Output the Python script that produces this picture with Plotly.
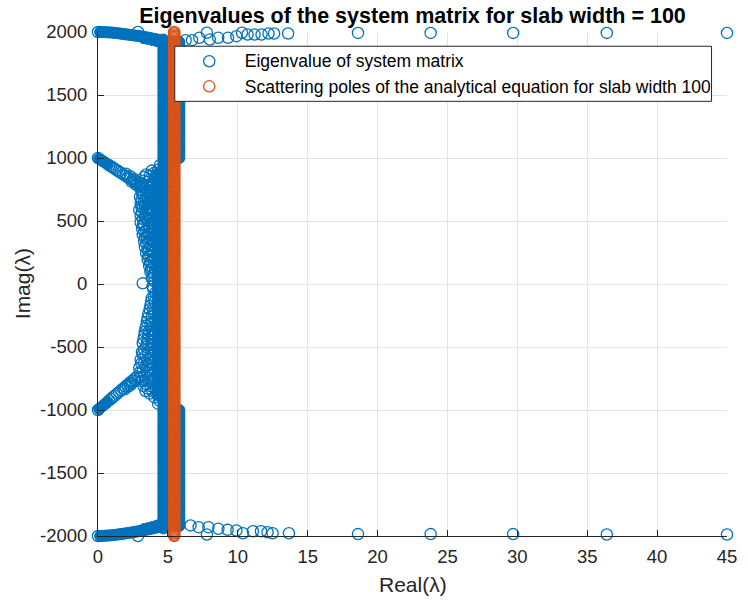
import plotly.graph_objects as go

BLUE = "#0072BD"
ORANGE = "#D95319"
FONT = "Liberation Sans"

# ---------------------------------------------------------------------------
# Eigenvalues of the system matrix (real part, imaginary part)
# ---------------------------------------------------------------------------

# band running along the top edge into the dense column
TOP_BAND_RE = [0, 0.15, 0.3, 0.45, 0.6, 0.75, 0.9, 1.05, 1.2, 1.35, 1.5, 1.65,
               1.8, 1.95, 2.1, 2.25, 2.4, 2.55, 2.7, 2.85, 3.0, 3.15, 3.3, 3.45,
               3.6, 3.75, 3.9, 4.05, 4.2, 4.35, 4.5,
               3.3, 3.6, 3.9, 4.2, 4.45]
TOP_BAND_IM = [2000, 2000, 1999, 1999, 1998, 1997, 1996, 1995, 1993, 1991, 1989, 1987,
               1984, 1982, 1980, 1978, 1976, 1973, 1971, 1969, 1967, 1964, 1961, 1958,
               1955, 1951, 1948, 1945, 1941, 1938, 1935,
               1950, 1944, 1936, 1928, 1920]

# band running along the bottom edge into the dense column
BOTTOM_BAND_RE = [0, 0.15, 0.3, 0.45, 0.6, 0.75, 0.9, 1.05, 1.2, 1.35, 1.5, 1.65,
                  1.8, 1.95, 2.1, 2.25, 2.4, 2.55, 2.7, 2.85, 3.0, 3.15, 3.3, 3.45,
                  3.6, 3.75, 3.9, 4.05, 4.2, 4.35, 4.5,
                  3.3, 3.6, 3.9, 4.2, 4.45]
BOTTOM_BAND_IM = [-2000, -2000, -1999, -1998, -1997, -1996, -1995, -1993, -1991, -1989, -1987, -1985,
                  -1982, -1980, -1977, -1975, -1972, -1969, -1966, -1963, -1960, -1957, -1954, -1950,
                  -1947, -1943, -1940, -1936, -1932, -1929, -1925,
                  -1945, -1937, -1928, -1918, -1910]

# branch leaving +1000i
UPPER_BRANCH_RE = [0, 0.08, 0.16, 0.25, 0.35, 0.45, 0.56, 0.68, 0.8, 0.93, 1.06, 1.2,
                   1.35, 1.5, 1.65, 1.8, 1.96, 2.12, 2.28, 2.45, 2.62, 2.8, 2.97,
                   2.0, 2.3, 2.55, 2.75, 3.0, 2.4, 2.7, 2.95]
UPPER_BRANCH_IM = [1000, 994, 988, 982, 975, 968, 960, 951, 942, 933, 924, 914,
                   903, 892, 881, 870, 859, 847, 836, 824, 811, 798, 786,
                   875, 855, 835, 815, 800, 812, 790, 770]

# branch leaving -1000i
LOWER_BRANCH_RE = [0, 0.08, 0.16, 0.25, 0.35, 0.45, 0.56, 0.68, 0.8, 0.93, 1.06, 1.2,
                   1.35, 1.5, 1.65, 1.8, 1.96, 2.12, 2.28, 2.45, 2.62, 2.8,
                   1.9, 2.15, 2.4, 2.65, 2.9, 2.3]
LOWER_BRANCH_IM = [-1000, -992, -985, -976, -967, -957, -947, -935, -924, -912, -899, -886,
                   -872, -858, -843, -829, -814, -799, -783, -767, -751, -734,
                   -835, -815, -790, -770, -750, -805]

# loose eigenvalues on the left flank of the column
FLANK_RE = [3.3, 3.7, 4.0, 4.3, 4.45, 3.15, 3.5, 3.85, 4.1, 3.1, 3.35, 3.6, 3.9,
            3.0, 3.25, 3.55, 3.8, 4.05, 3.05, 3.3, 3.6, 3.9, 2.95, 3.2, 3.45, 3.75,
            4.0, 3.05, 3.35, 3.65, 3.95, 3.05, 3.3, 3.55, 3.85, 4.1, 3.15, 3.45, 3.7,
            4.0, 3.2, 3.5, 3.8, 4.05, 3.3, 3.6, 3.9, 3.35, 3.65, 3.95, 3.45, 3.75, 4.0,
            3.55, 3.8, 4.05, 3.65, 3.9, 3.75, 4.0, 3.85, 4.05, 3.2,
            3.45, 3.85, 4.15, 3.25, 3.7, 4.0, 3.2, 3.5, 3.75, 4.1, 3.15, 3.45, 3.7,
            3.95, 3.1, 3.4, 3.75, 4.1, 3.1, 3.35, 3.6, 3.9, 3.15, 3.5, 3.8, 4.1,
            3.2, 3.45, 3.75, 3.95, 3.2, 3.6, 3.9, 3.3, 3.6, 3.9, 3.35, 3.7, 4.0,
            3.45, 3.8, 3.55, 3.85, 3.6, 3.95, 3.7, 4.0, 3.8, 4.1, 3.9,
            3.95, 4.1, 3.85, 4.05, 3.75, 3.95, 3.6, 3.85, 4.1, 3.5, 3.75, 3.4, 3.65,
            3.95, 3.3, 3.55, 3.85, 3.2, 3.45, 3.75, 4.05, 3.15, 3.4, 3.7, 3.05, 3.3,
            3.6, 3.9, 2.95, 3.2, 3.5, 3.8, 3.05, 3.35, 3.65, 4.0, 3.25, 3.55, 3.9,
            4.25, 4.45,
            3.9, 4.0, 3.8, 3.7, 4.0, 3.55, 3.85, 3.45, 3.8, 3.35, 3.6, 3.9, 3.25,
            3.5, 3.8, 3.3, 3.6, 3.9, 3.2, 3.5, 3.8, 3.1, 3.4, 3.7, 4.05, 3.0, 3.3,
            3.6, 3.9, 3.15, 3.45, 3.75, 4.1, 3.4, 3.7, 4.05, 4.3]
FLANK_IM = [850, 860, 880, 905, 945, 795, 810, 790, 825, 745, 760, 740, 730,
            690, 705, 680, 700, 690, 640, 655, 630, 645, 590, 600, 585, 610,
            580, 545, 530, 550, 530, 490, 475, 500, 480, 505, 440, 425, 445,
            430, 390, 375, 395, 370, 340, 325, 345, 295, 280, 300, 245, 230, 255,
            195, 180, 205, 145, 130, 95, 80, 45, 20, 5,
            870, 900, 860, 820, 830, 800, 770, 785, 765, 750, 720, 730, 715,
            710, 665, 680, 660, 660, 615, 625, 605, 595, 565, 560, 565, 555,
            515, 520, 510, 495, 465, 470, 455, 415, 400, 420, 365, 360, 330,
            320, 310, 270, 265, 220, 225, 170, 160, 115, 120, 65,
            -40, -70, -110, -140, -170, -200, -235, -260, -290, -300, -320, -350, -375,
            -390, -410, -440, -455, -470, -500, -515, -530, -540, -570, -585, -600, -625,
            -645, -660, -665, -690, -705, -720, -740, -760, -775, -790, -810, -830, -850,
            -880, -930,
            -20, -100, -140, -200, -230, -270, -300, -330, -355, -380, -405, -420, -440,
            -470, -485, -520, -545, -560, -560, -600, -620, -630, -655, -680, -690, -700, -725,
            -745, -760, -770, -795, -810, -830, -850, -870, -900, -950]

# isolated eigenvalues near the top and bottom edges
TOP_ROW_RE = [2.86, 6.27, 6.73, 7.25, 7.79, 8.0, 8.6, 9.3, 9.9, 10.3, 10.7, 11.2,
              11.7, 12.2, 12.6, 13.6, 18.6, 23.8, 29.7, 36.4, 45.0]
TOP_ROW_IM = [2000, 1935, 1935, 1954, 1994, 1940, 1954, 1954, 1967, 1994, 1980, 1980,
              1980, 1988, 1988, 1988, 1993, 1993, 1993, 1993, 1993]
BOTTOM_ROW_RE = [2.86, 6.62, 7.2, 7.9, 7.79, 8.61, 9.27, 9.9, 10.37, 11.08, 11.66,
                 12.13, 12.49, 13.66, 18.6, 23.8, 29.7, 36.4, 45.0]
BOTTOM_ROW_IM = [-2000, -1916, -1930, -1930, -1988, -1943, -1951, -1956, -1978, -1962, -1962,
                 -1970, -1978, -1978, -1985, -1985, -1985, -1988, -1988]

# dense column: imaginary parts and the real parts of its strands
COLUMN_IM = [
    -1940, -1920, -1900, -1880, -1860, -1840, -1820, -1800, -1780, -1760,
    -1740, -1720, -1700, -1680, -1660, -1640, -1620, -1600, -1580, -1560,
    -1540, -1520, -1500, -1480, -1460, -1440, -1420, -1400, -1380, -1360,
    -1340, -1320, -1300, -1280, -1260, -1240, -1220, -1200, -1180, -1160,
    -1140, -1120, -1100, -1080, -1060, -1040, -1020, -1000, -980, -960,
    -940, -920, -900, -880, -860, -840, -820, -800, -780, -760,
    -740, -720, -700, -680, -660, -640, -620, -600, -580, -560,
    -540, -520, -500, -480, -460, -440, -420, -400, -380, -360,
    -340, -320, -300, -280, -260, -240, -220, -200, -180, -160,
    -140, -120, -100, -80, -60, -40, -20, 0, 20, 40,
    60, 80, 100, 120, 140, 160, 180, 200, 220, 240,
    260, 280, 300, 320, 340, 360, 380, 400, 420, 440,
    460, 480, 500, 520, 540, 560, 580, 600, 620, 640,
    660, 680, 700, 720, 740, 760, 780, 800, 820, 840,
    860, 880, 900, 920, 940, 960, 980, 1000, 1020, 1040,
    1060, 1080, 1100, 1120, 1140, 1160, 1180, 1200, 1220, 1240,
    1260, 1280, 1300, 1320, 1340, 1360, 1380, 1400, 1420, 1440,
    1460, 1480, 1500, 1520, 1540, 1560, 1580, 1600, 1620, 1640,
    1660, 1680, 1700, 1720, 1740, 1760, 1780, 1800, 1820, 1840,
    1860, 1880, 1900, 1920, 1940,
]
COLUMN_LEFT_RE = 4.68
COLUMN_RIGHT_RE = 5.82
COLUMN_INNER_RE = 4.3

# ---------------------------------------------------------------------------
# Scattering poles of the analytical equation (slab width 100)
# ---------------------------------------------------------------------------
POLE_RE = 5.45
POLE_IM = [
    -2000, -1990, -1980, -1970, -1960, -1950, -1940, -1930, -1920, -1910,
    -1900, -1890, -1880, -1870, -1860, -1850, -1840, -1830, -1820, -1810,
    -1800, -1790, -1780, -1770, -1760, -1750, -1740, -1730, -1720, -1710,
    -1700, -1690, -1680, -1670, -1660, -1650, -1640, -1630, -1620, -1610,
    -1600, -1590, -1580, -1570, -1560, -1550, -1540, -1530, -1520, -1510,
    -1500, -1490, -1480, -1470, -1460, -1450, -1440, -1430, -1420, -1410,
    -1400, -1390, -1380, -1370, -1360, -1350, -1340, -1330, -1320, -1310,
    -1300, -1290, -1280, -1270, -1260, -1250, -1240, -1230, -1220, -1210,
    -1200, -1190, -1180, -1170, -1160, -1150, -1140, -1130, -1120, -1110,
    -1100, -1090, -1080, -1070, -1060, -1050, -1040, -1030, -1020, -1010,
    -1000, -990, -980, -970, -960, -950, -940, -930, -920, -910,
    -900, -890, -880, -870, -860, -850, -840, -830, -820, -810,
    -800, -790, -780, -770, -760, -750, -740, -730, -720, -710,
    -700, -690, -680, -670, -660, -650, -640, -630, -620, -610,
    -600, -590, -580, -570, -560, -550, -540, -530, -520, -510,
    -500, -490, -480, -470, -460, -450, -440, -430, -420, -410,
    -400, -390, -380, -370, -360, -350, -340, -330, -320, -310,
    -300, -290, -280, -270, -260, -250, -240, -230, -220, -210,
    -200, -190, -180, -170, -160, -150, -140, -130, -120, -110,
    -100, -90, -80, -70, -60, -50, -40, -30, -20, -10,
    0, 10, 20, 30, 40, 50, 60, 70, 80, 90,
    100, 110, 120, 130, 140, 150, 160, 170, 180, 190,
    200, 210, 220, 230, 240, 250, 260, 270, 280, 290,
    300, 310, 320, 330, 340, 350, 360, 370, 380, 390,
    400, 410, 420, 430, 440, 450, 460, 470, 480, 490,
    500, 510, 520, 530, 540, 550, 560, 570, 580, 590,
    600, 610, 620, 630, 640, 650, 660, 670, 680, 690,
    700, 710, 720, 730, 740, 750, 760, 770, 780, 790,
    800, 810, 820, 830, 840, 850, 860, 870, 880, 890,
    900, 910, 920, 930, 940, 950, 960, 970, 980, 990,
    1000, 1010, 1020, 1030, 1040, 1050, 1060, 1070, 1080, 1090,
    1100, 1110, 1120, 1130, 1140, 1150, 1160, 1170, 1180, 1190,
    1200, 1210, 1220, 1230, 1240, 1250, 1260, 1270, 1280, 1290,
    1300, 1310, 1320, 1330, 1340, 1350, 1360, 1370, 1380, 1390,
    1400, 1410, 1420, 1430, 1440, 1450, 1460, 1470, 1480, 1490,
    1500, 1510, 1520, 1530, 1540, 1550, 1560, 1570, 1580, 1590,
    1600, 1610, 1620, 1630, 1640, 1650, 1660, 1670, 1680, 1690,
    1700, 1710, 1720, 1730, 1740, 1750, 1760, 1770, 1780, 1790,
    1800, 1810, 1820, 1830, 1840, 1850, 1860, 1870, 1880, 1890,
    1900, 1910, 1920, 1930, 1940, 1950, 1960, 1970, 1980, 1990,
    2000,
]

X_TICKS = [0, 5, 10, 15, 20, 25, 30, 35, 40, 45]
Y_TICKS = [-2000, -1500, -1000, -500, 0, 500, 1000, 1500, 2000]

# ---------------------------------------------------------------------------
# assemble the eigenvalue set; where the eigenvalues pile up so densely that
# their circles merge into a solid band they go into a separate, filled layer
# ---------------------------------------------------------------------------
ring_re, ring_im = [], []
solid_re, solid_im = [], []

for re_list, im_list in [
    (TOP_BAND_RE, TOP_BAND_IM),
    (BOTTOM_BAND_RE, BOTTOM_BAND_IM),
    (UPPER_BRANCH_RE, UPPER_BRANCH_IM),
    (LOWER_BRANCH_RE, LOWER_BRANCH_IM),
]:
    for r, i in zip(re_list, im_list):
        # band bodies and the start of the branches merge into solid strokes
        if (abs(i) > 1800 and 0.1 < r) or (abs(i) < 1100 and 0.05 < r < 0.75):
            solid_re.append(r)
            solid_im.append(i)
        else:
            ring_re.append(r)
            ring_im.append(i)

for re_list, im_list in [
    (FLANK_RE, FLANK_IM),
    (TOP_ROW_RE, TOP_ROW_IM),
    (BOTTOM_ROW_RE, BOTTOM_ROW_IM),
]:
    ring_re.extend(re_list)
    ring_im.extend(im_list)

for v in COLUMN_IM:
    solid_re.append(COLUMN_LEFT_RE)
    solid_im.append(v)
    if 990 <= abs(v) <= 1920:
        solid_re.append(COLUMN_RIGHT_RE)
        solid_im.append(v)
    if abs(v) <= 880:
        solid_re.append(COLUMN_INNER_RE)
        solid_im.append(v)

ring_blue = dict(symbol="circle-open", size=11.2, color=BLUE, line=dict(width=1.3, color=BLUE))
ring_orange = dict(symbol="circle-open", size=11.2, color=ORANGE, line=dict(width=1.3, color=ORANGE))
# invisible legend glyph: the ring itself is drawn as a shape in the legend frame
no_glyph = dict(symbol="circle", size=11.2, color="rgba(0,0,0,0)", line=dict(width=0, color="rgba(0,0,0,0)"))

fig = go.Figure()
fig.add_trace(go.Scatter(
    x=ring_re, y=ring_im, mode="markers", name="Eigenvalue of system matrix",
    legendgroup="eig", showlegend=False, marker=ring_blue, cliponaxis=False,
))
fig.add_trace(go.Scatter(
    x=solid_re, y=solid_im, mode="markers", name="Eigenvalue of system matrix",
    legendgroup="eig", showlegend=False,
    marker=dict(symbol="circle", size=11, color=BLUE, line=dict(width=1, color=BLUE)),
    cliponaxis=False,
))
fig.add_trace(go.Scatter(
    x=[POLE_RE] * len(POLE_IM), y=POLE_IM, mode="markers",
    name="Scattering poles of the analytical equation for slab width 100",
    legendgroup="poles", showlegend=False, marker=ring_orange, cliponaxis=False,
))
# legend entries
fig.add_trace(go.Scatter(
    x=[None], y=[None], mode="markers", name="Eigenvalue of system matrix",
    legendgroup="eig", marker=no_glyph,
))
fig.add_trace(go.Scatter(
    x=[None], y=[None], mode="markers",
    name="Scattering poles of the analytical equation for slab width 100",
    legendgroup="poles", marker=no_glyph,
))

axis_common = dict(
    showgrid=True, gridcolor="#e3e3e3", gridwidth=1,
    zeroline=False, showline=True, linecolor="#262626", linewidth=1,
    ticks="inside", ticklen=6, tickcolor="#262626", tickwidth=1,
    tickfont=dict(family=FONT, size=18.5, color="#262626"),
    mirror=False,
)

# pixel frame of the plot area, used to place the legend box
PX_L, PX_R, PX_T, PX_B = 97.7, 736.7, 32.5, 535.5


def px_x(v):
    return (v - PX_L) / (PX_R - PX_L)


def px_y(v):
    return (PX_B - v) / (PX_B - PX_T)


def legend_ring(cy, color):
    return dict(type="circle", xref="paper", yref="paper", layer="above",
                xsizemode="pixel", ysizemode="pixel",
                xanchor=px_x(210.7), yanchor=px_y(cy),
                x0=-5.6, x1=5.6, y0=-5.6, y1=5.6,
                fillcolor="white", line=dict(color=color, width=1.3))


fig.update_layout(
    width=748, height=603,
    margin=dict(l=98, r=11, t=32, b=67),
    paper_bgcolor="white", plot_bgcolor="white",
    showlegend=True,
    title=dict(
        text="<b>Eigenvalues of the system matrix for slab width = 100</b>",
        font=dict(family=FONT, size=21.5, color="#000000"),
        x=0.5, xref="paper", xanchor="center",
        y=1 - 15.5 / 603, yref="container", yanchor="middle",
    ),
    xaxis=dict(range=[0, 45], tickvals=X_TICKS, ticktext=[str(t) for t in X_TICKS],
               ticklabelstandoff=4, **axis_common),
    yaxis=dict(range=[-2000, 2000], tickvals=Y_TICKS, ticktext=[str(t) for t in Y_TICKS],
               ticklabelstandoff=6, **axis_common),
    legend=dict(
        x=px_x(175.7), y=px_y(42.7), xanchor="left", yanchor="top",
        bgcolor="rgba(0,0,0,0)", borderwidth=0,
        font=dict(family=FONT, size=17.5, color="#000000"),
        itemwidth=60, tracegroupgap=0,
    ),
    shapes=[
        dict(type="rect", xref="paper", yref="paper", layer="above",
             x0=px_x(175.7), x1=px_x(721), y0=px_y(101.7), y1=px_y(46.7),
             fillcolor="white", line=dict(color="#262626", width=1)),
        legend_ring(61.7, BLUE),
        legend_ring(86.7, ORANGE),
    ],
    annotations=[
        dict(text="Real(λ)", x=0.5, xref="paper", y=-(584 - 535.5) / 503, yref="paper",
             xanchor="center", yanchor="middle", showarrow=False,
             font=dict(family=FONT, size=21, color="#262626")),
        dict(text="Imag(λ)", x=-(98 - 21) / 639, xref="paper", y=0.5, yref="paper",
             xanchor="center", yanchor="middle", showarrow=False, textangle=-90,
             font=dict(family=FONT, size=21, color="#262626")),
    ],
)

fig.write_html("out.html")
